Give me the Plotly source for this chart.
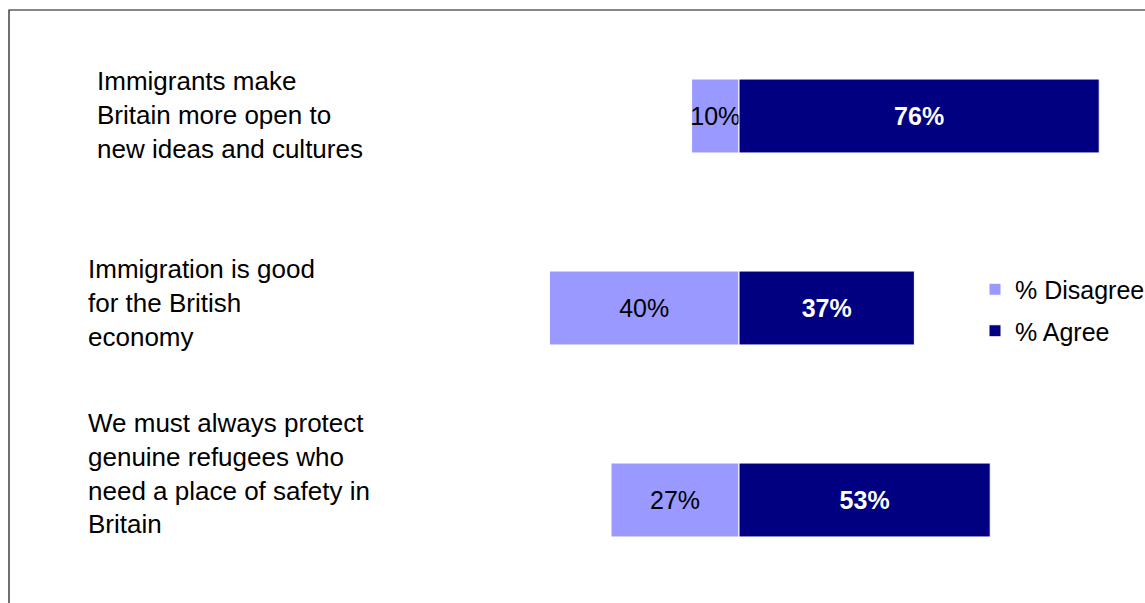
import plotly.graph_objects as go

# Survey statements (line breaks as shown beside each bar)
statements = [
    "Immigrants make<br>Britain more open to<br>new ideas and cultures",
    "Immigration is good<br>for the British<br>economy",
    "We must always protect<br>genuine refugees who<br>need a place of safety in<br>Britain",
]
disagree_pct = [10, 40, 27]
agree_pct = [76, 37, 53]

FONT = "Arial, Liberation Sans, sans-serif"
W, H = 1145, 603

fig = go.Figure()

fig.add_trace(go.Bar(
    name="% Disagree",
    y=statements,
    x=[-v for v in disagree_pct],
    orientation="h",
    text=[f"{v}%" for v in disagree_pct],
    textposition="inside",
    insidetextanchor="middle",
    textangle=0,
    constraintext="none",
    textfont=dict(family=FONT, size=25, color="black"),
    marker=dict(color="#9999FF", line=dict(color="white", width=1)),
    legendgroup="d",
    hoverinfo="skip",
))

fig.add_trace(go.Bar(
    name="% Agree",
    y=statements,
    x=agree_pct,
    orientation="h",
    text=[f"{v}%" for v in agree_pct],
    textposition="inside",
    insidetextanchor="middle",
    textangle=0,
    constraintext="none",
    textfont=dict(family=FONT, size=25, color="white", weight="bold"),
    marker=dict(color="#000080", line=dict(color="white", width=1)),
    legendgroup="a",
    hoverinfo="skip",
))

# statement labels, left-aligned to the left of the bars
label_x = [95, 86, 86]
label_shift = [1, 5, 27]
for s, lx, ys in zip(statements, label_x, label_shift):
    fig.add_annotation(
        text=s, xref="paper", x=lx / W, xanchor="left",
        yref="y", y=s, yanchor="middle", yshift=ys,
        align="left", showarrow=False,
        font=dict(family=FONT, size=26, color="black"),
    )

# outer frame
fig.add_shape(type="rect", xref="paper", yref="paper",
              x0=9 / W, x1=1.05, y0=-0.05, y1=1 - 10 / H,
              line=dict(color="#111111", width=1.2), fillcolor="rgba(0,0,0,0)")

px_per_pct = 4.74
centre = 739
fig.update_layout(
    width=W, height=H,
    margin=dict(l=0, r=0, t=0, b=0, autoexpand=False),
    paper_bgcolor="white", plot_bgcolor="white",
    barmode="relative", bargap=0.615,
    font=dict(family=FONT, size=26, color="black"),
    xaxis=dict(range=[-centre / px_per_pct, (W - centre) / px_per_pct],
               visible=False, fixedrange=True),
    yaxis=dict(categoryorder="array", categoryarray=statements,
               range=[(H - 116) / 192, -116 / 192],
               visible=False, fixedrange=True),
    showlegend=True,
    legend=dict(x=975 / W, xanchor="left", y=1 - 310 / H, yanchor="middle",
                traceorder="grouped", tracegroupgap=6,
                font=dict(family=FONT, size=25, color="black"),
                bgcolor="rgba(0,0,0,0)"),
)

fig.write_html("out.html")
